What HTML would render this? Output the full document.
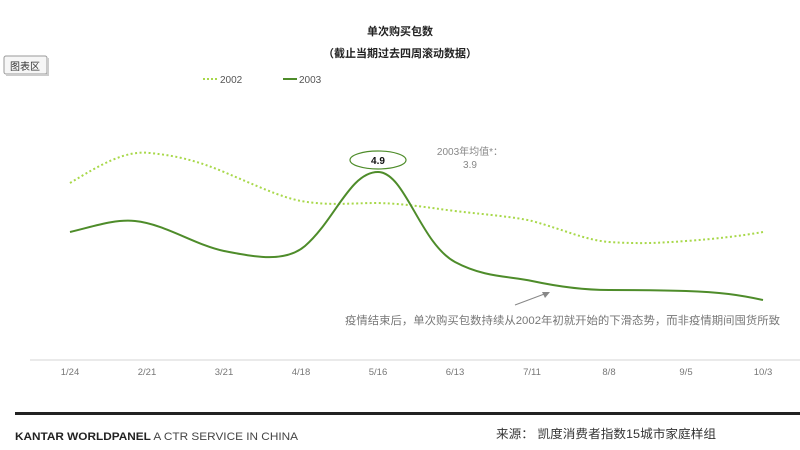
<!DOCTYPE html>
<html><head><meta charset="utf-8"><style>
body{margin:0;width:800px;height:450px;background:#fff;overflow:hidden;font-family:"Liberation Sans","Noto Sans CJK SC",sans-serif;}
</style></head><body>
<svg width="800" height="450" xmlns="http://www.w3.org/2000/svg" style="position:absolute;left:0;top:0">
<text x="400" y="35" text-anchor="middle" font-size="11" font-weight="bold" fill="#222" font-family="Liberation Sans,Noto Sans CJK SC,sans-serif">单次购买包数</text>
<text x="400" y="57" text-anchor="middle" font-size="11" font-weight="bold" fill="#222" font-family="Liberation Sans,Noto Sans CJK SC,sans-serif">（截止当期过去四周滚动数据）</text>
<rect x="4" y="56" width="43" height="18" fill="#f6f6f6" stroke="#999" rx="2"/>
<rect x="47" y="58" width="2" height="18" fill="#ccc"/><rect x="6" y="74" width="43" height="2" fill="#ccc"/>
<text x="25" y="70" text-anchor="middle" font-size="10" fill="#333" font-family="Liberation Sans,Noto Sans CJK SC,sans-serif">图表区</text>
<line x1="203" y1="79" x2="217" y2="79" stroke="#a8d84a" stroke-width="2" stroke-dasharray="2,2"/>
<text x="220" y="83" font-size="10" fill="#555">2002</text>
<line x1="283" y1="79" x2="297" y2="79" stroke="#4e8c2a" stroke-width="2"/>
<text x="299" y="83" font-size="10" fill="#555">2003</text>
<path d="M70,183 C100,165 125,150 150,153 C180,156 200,162 224,172 C255,185 280,197 301,201 C330,206 350,203 378,203 C410,204 430,208 455,211 C490,215 515,217 532,221 C565,230 585,240 609,242 C640,244 660,243 686,241 C715,239 740,236 763,232" fill="none" stroke="#a8d84a" stroke-width="2" stroke-dasharray="2,2.5"/>
<path d="M70,232 C95,226 115,219 135,221 C165,224 195,245 224,251 C255,257 285,263 305,246 C335,220 350,172 378,172 C405,172 420,243 455,262 C485,278 510,276 532,281 C560,287 585,290 609,290 C640,290 660,290 686,291 C720,292 740,295 763,300" fill="none" stroke="#4e8c2a" stroke-width="2"/>
<ellipse cx="378" cy="160" rx="28" ry="9" fill="#fff" stroke="#4e8c2a" stroke-width="1.2"/>
<text x="378" y="164" text-anchor="middle" font-size="10" font-weight="bold" fill="#111">4.9</text>
<text x="470" y="155" text-anchor="middle" font-size="10" fill="#888" font-family="Liberation Sans,Noto Sans CJK SC,sans-serif">2003年均值*：</text>
<text x="470" y="168" text-anchor="middle" font-size="10" fill="#888">3.9</text>
<line x1="515" y1="305" x2="547" y2="293" stroke="#888" stroke-width="1"/>
<polygon points="550,292 542,292 545,298" fill="#888"/>
<text x="345" y="324" font-size="11" textLength="435" lengthAdjust="spacingAndGlyphs" fill="#777" font-family="Liberation Sans,Noto Sans CJK SC,sans-serif">疫情结束后，单次购买包数持续从2002年初就开始的下滑态势，而非疫情期间囤货所致</text>
<line x1="30" y1="360" x2="800" y2="360" stroke="#e4e4e4" stroke-width="1.5"/>
<g font-size="9.5" fill="#777" text-anchor="middle">
<text x="70" y="375">1/24</text><text x="147" y="375">2/21</text><text x="224" y="375">3/21</text><text x="301" y="375">4/18</text><text x="378" y="375">5/16</text><text x="455" y="375">6/13</text><text x="532" y="375">7/11</text><text x="609" y="375">8/8</text><text x="686" y="375">9/5</text><text x="763" y="375">10/3</text>
</g>
<rect x="15" y="412" width="785" height="3" fill="#222"/>
<text x="15" y="440" font-size="11" fill="#222" textLength="283" lengthAdjust="spacingAndGlyphs"><tspan font-weight="bold">KANTAR WORLDPANEL</tspan><tspan fill="#444"> A CTR SERVICE IN CHINA</tspan></text>
<text x="496" y="438" font-size="12" textLength="220" lengthAdjust="spacingAndGlyphs" fill="#333" font-family="Liberation Sans,Noto Sans CJK SC,sans-serif">来源： 凯度消费者指数15城市家庭样组</text>
</svg>
</body></html>
